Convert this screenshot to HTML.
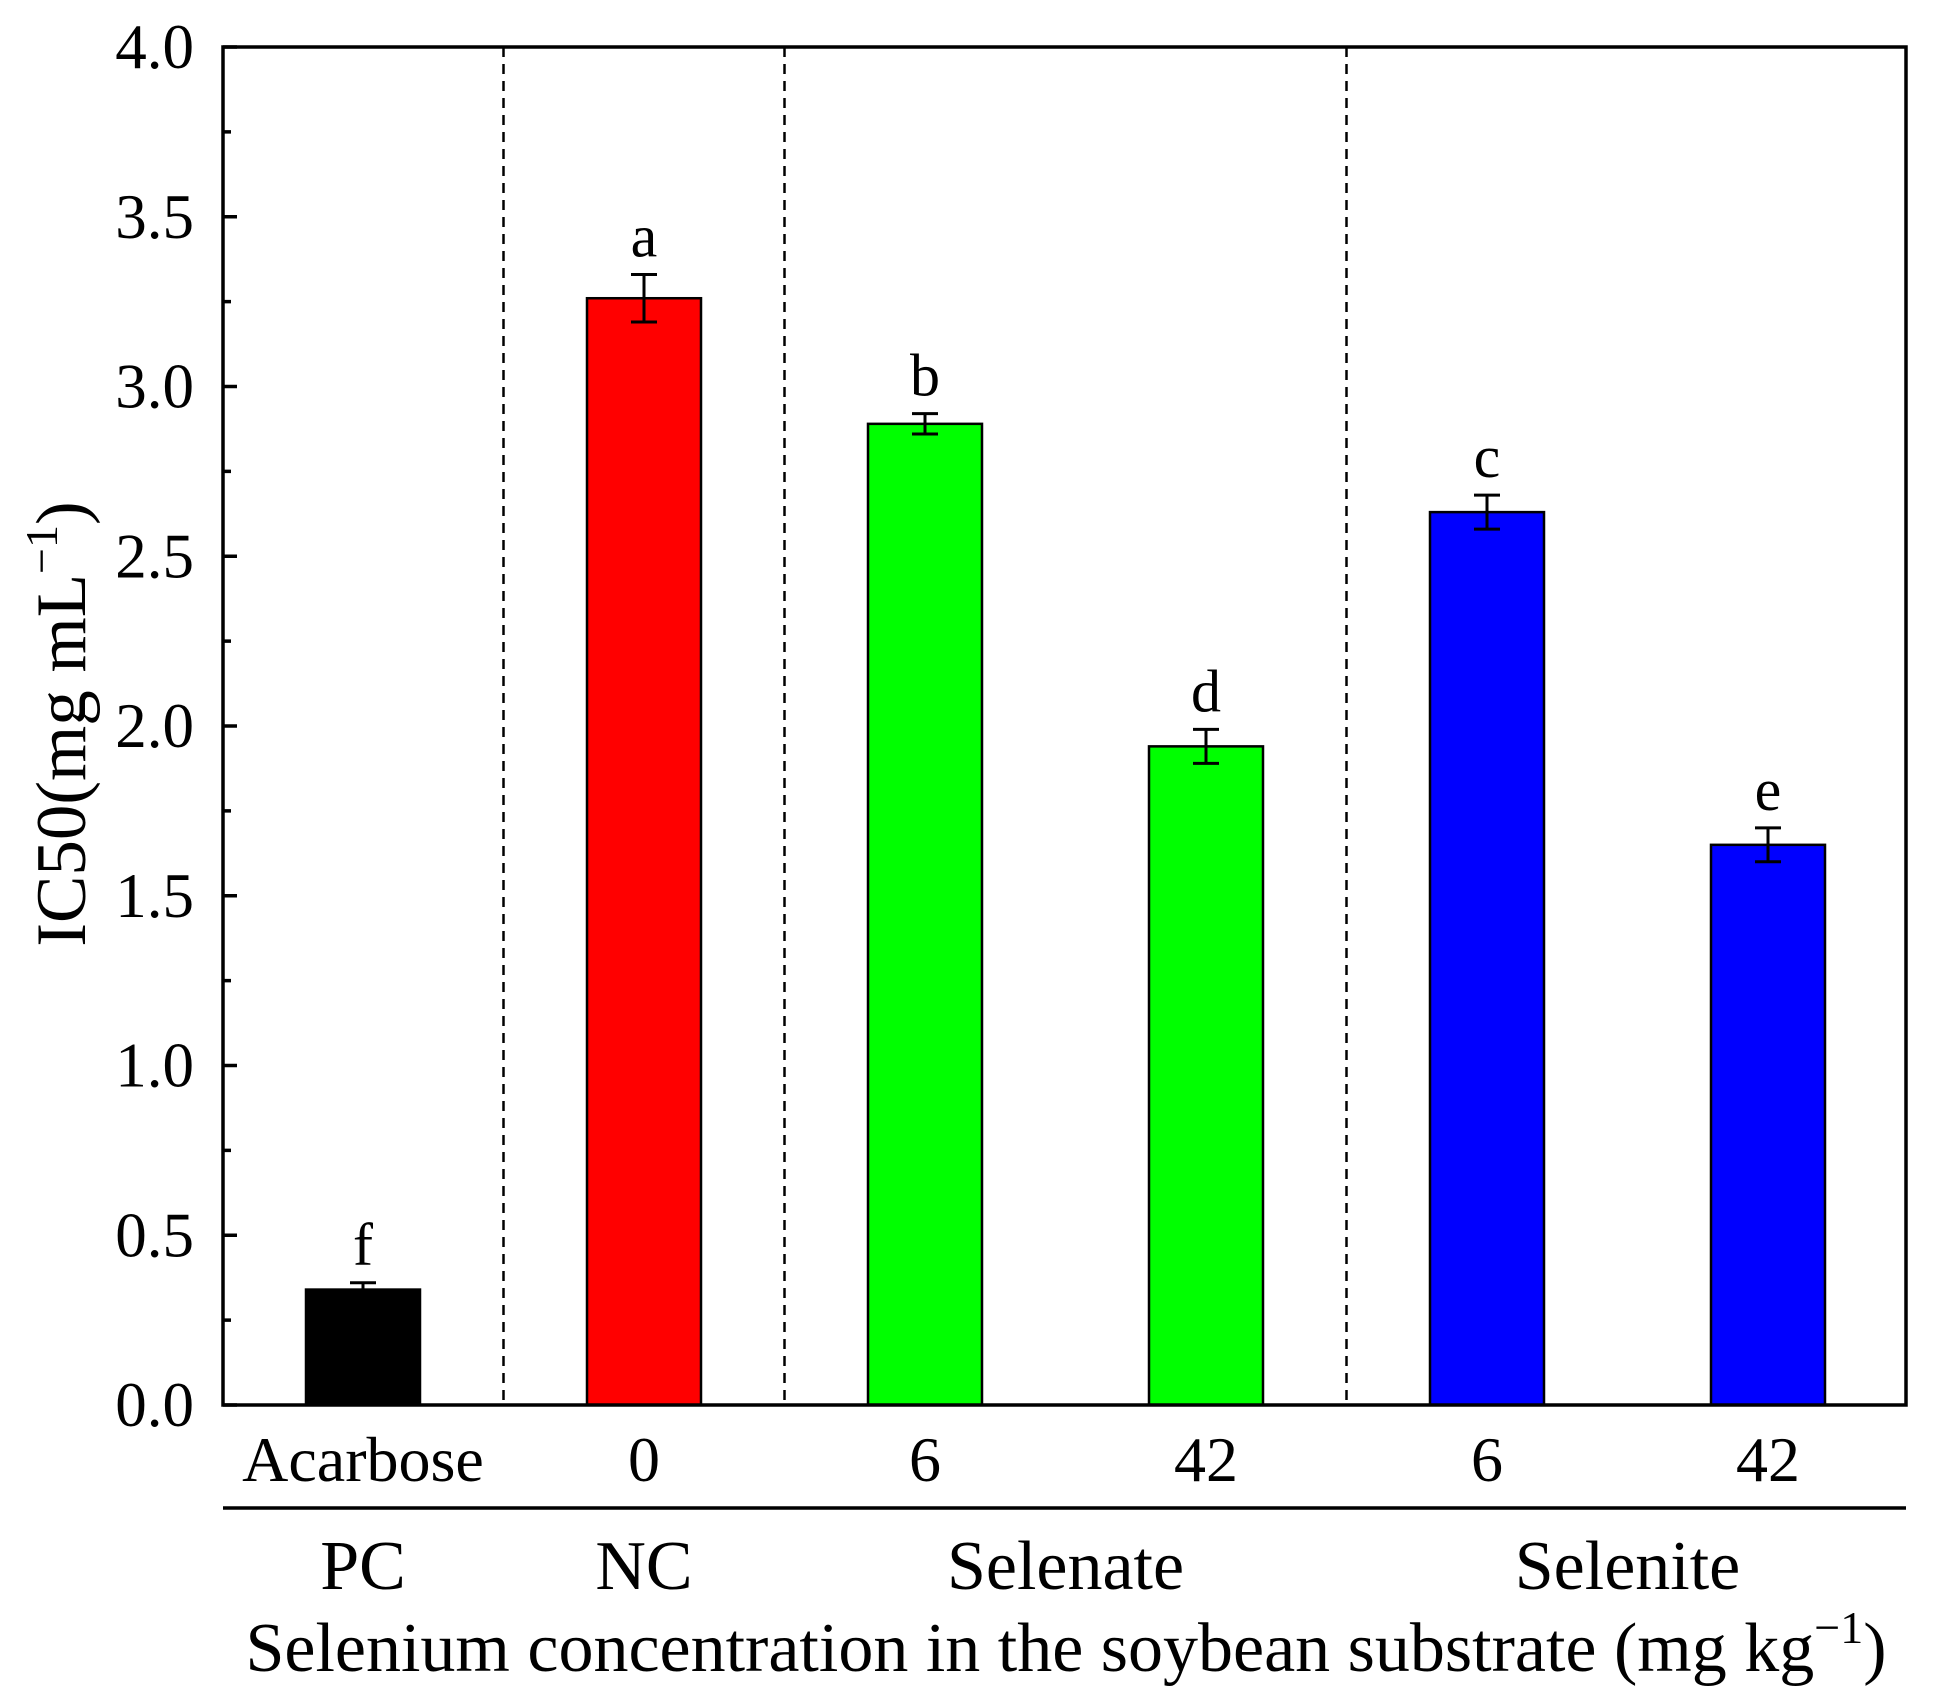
<!DOCTYPE html>
<html><head><meta charset="utf-8"><style>
html,body{margin:0;padding:0;background:#fff;}
svg{display:block;font-family:"Liberation Serif",serif;}
</style></head><body>
<svg id="chart" width="1941" height="1708" viewBox="0 0 1941 1708"></svg>
<script>
const categories = ["Acarbose","0","6","42","6","42"];
const values = [0.34, 3.26, 2.89, 1.94, 2.63, 1.65];
const errors = [0.02, 0.07, 0.03, 0.05, 0.05, 0.05];
const letters = ["f","a","b","d","c","e"];
const colors = ["#000000","#ff0000","#00ff00","#00ff00","#0000ff","#0000ff"];
const yTicks = ["0.0","0.5","1.0","1.5","2.0","2.5","3.0","3.5","4.0"];
const groups = [{name:"PC",from:0,to:0},{name:"NC",from:1,to:1},{name:"Selenate",from:2,to:3},{name:"Selenite",from:4,to:5}];
const dividers = [0.5, 1.5, 3.5];

const NS="http://www.w3.org/2000/svg";
const svg=document.getElementById('chart');
const L=223,R=1906,T=47,B=1405;
const x0=363, step=281, bw=114;
function xS(i){return x0+i*step;}
function yS(v){return B-(v/4)*(B-T);}
function el(tag,attrs,name,inter){const e=document.createElementNS(NS,tag);for(const k in attrs)e.setAttribute(k,attrs[k]);


svg.appendChild(e);return e;}

dividers.forEach((d,i)=>{const x=xS(d);el('line',{x1:x,x2:x,y1:T,y2:B,stroke:'#000','stroke-width':2.5,'stroke-dasharray':'10,7'},'group-divider-'+i);});

values.forEach((v,i)=>{
  const x=xS(i);
  el('rect',{x:x-bw/2,y:yS(v),width:bw,height:B-yS(v),fill:colors[i],stroke:'#000','stroke-width':2.5},'bar-'+i);
  const yt=yS(v+errors[i]),yb=yS(v-errors[i]);
  el('line',{x1:x,x2:x,y1:yt,y2:yb,stroke:'#000','stroke-width':3},'error-bar-'+i);
  el('line',{x1:x-13,x2:x+13,y1:yt,y2:yt,stroke:'#000','stroke-width':3},'error-cap-top-'+i);
  el('line',{x1:x-13,x2:x+13,y1:yb,y2:yb,stroke:'#000','stroke-width':3},'error-cap-bottom-'+i);
  const t=el('text',{x:x,y:yt-18,'font-size':60,'text-anchor':'middle'},'significance-letter-'+i);t.textContent=letters[i];
  const c=el('text',{x:x,y:1481,'font-size':64,'text-anchor':'middle'},'x-tick-label-'+i);c.textContent=categories[i];
});

el('rect',{x:L,y:T,width:R-L,height:B-T,fill:'none',stroke:'#000','stroke-width':3.5},'plot-frame');

yTicks.forEach((lab,i)=>{
  const v=parseFloat(lab),y=yS(v);
  el('line',{x1:L,x2:L+14,y1:y,y2:y,stroke:'#000','stroke-width':3.5},'y-tick-'+i);
  const t=el('text',{x:194,y:y+21,'font-size':63,'text-anchor':'end'},'y-tick-label-'+i);t.textContent=lab;
  if(i<yTicks.length-1){const ym=yS(v+0.25);el('line',{x1:L,x2:L+8,y1:ym,y2:ym,stroke:'#000','stroke-width':3.5},'y-minor-tick-'+i);}
});

el('line',{x1:L,x2:R,y1:1508,y2:1508,stroke:'#000','stroke-width':3.5},'group-separator-line');
groups.forEach((g,i)=>{const x=(xS(g.from)+xS(g.to))/2;const t=el('text',{x:x,y:1589,'font-size':70,'text-anchor':'middle'},'group-label-'+i);t.textContent=g.name;});

const xt=el('text',{x:1066,y:1671,'font-size':70,'text-anchor':'middle'},'x-axis-title');
xt.innerHTML='Selenium concentration in the soybean substrate (mg kg<tspan dy="-28" font-size="46">−1</tspan><tspan dy="28">)</tspan>';
const yt=el('text',{x:0,y:0,'font-size':71,'text-anchor':'middle',transform:'translate(85,724) rotate(-90)'},'y-axis-title');
yt.innerHTML='IC50(mg mL<tspan dy="-28" font-size="46">−1</tspan><tspan dy="28">)</tspan>';
</script>
</body></html>
